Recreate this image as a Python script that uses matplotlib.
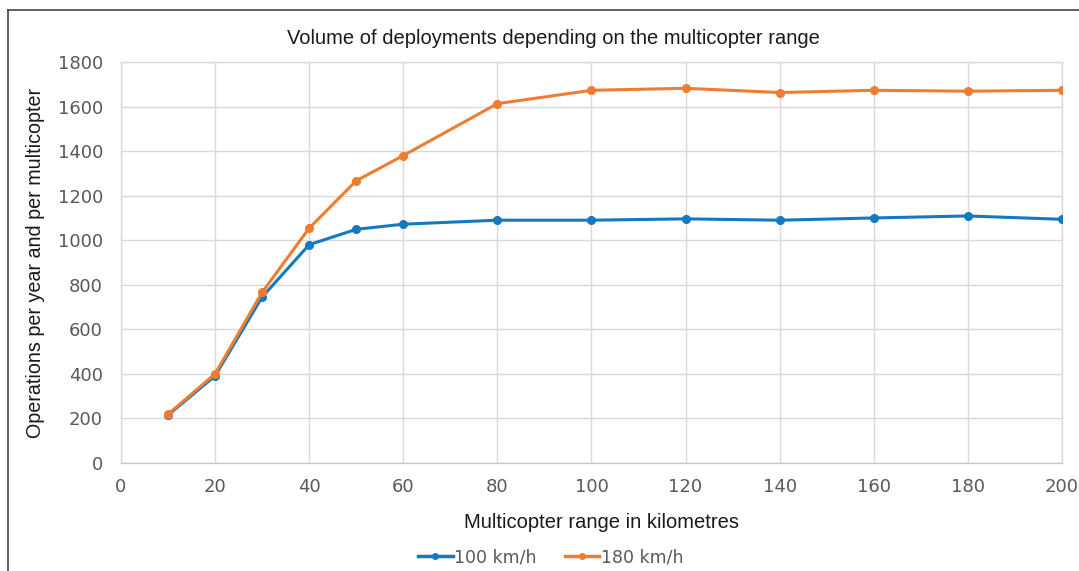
import matplotlib
matplotlib.use("Agg")
import matplotlib.pyplot as plt
from matplotlib.lines import Line2D

range_km = [10, 20, 30, 40, 50, 60, 80, 100, 120, 140, 160, 180, 200]
ops_100 = [215, 391, 745, 980, 1049, 1072, 1090, 1090, 1096, 1090, 1100, 1109, 1094]
ops_180 = [219, 400, 766, 1054, 1267, 1380, 1613, 1673, 1682, 1663, 1673, 1669, 1673]
series_labels = ["100 km/h", "180 km/h"]
x_ticks = list(range(0, 201, 20))
y_ticks = list(range(0, 1801, 200))

blue = "#1479BF"
orange = "#EE7D31"
tick_color = "#595959"

fig = plt.figure(figsize=(10.79, 5.71), dpi=100)
ax = fig.add_axes([0.1121, 0.1891, 0.8721, 0.7023])

ax.plot(range_km, ops_100, color=blue, lw=2.2, marker="o", ms=5.5, label=series_labels[0], zorder=3)
ax.plot(range_km, ops_180, color=orange, lw=2.2, marker="o", ms=5.5, label=series_labels[1], zorder=4)

ax.set_xlim(0, 200)
ax.set_ylim(0, 1800)
ax.set_xticks(x_ticks)
ax.set_yticks(y_ticks)
ax.grid(True, color="#d9d9d9", lw=1.0)
ax.set_axisbelow(True)
for s in ax.spines.values():
    s.set_color("#d9d9d9")
    s.set_linewidth(1.0)
ax.spines["bottom"].set_color("#c8c8c8")
ax.tick_params(length=0, labelsize=13, colors=tick_color)
ax.tick_params(axis="y", pad=13)
ax.tick_params(axis="x", pad=11)

fig.text(0.5125, 1 - 38 / 571, "Volume of deployments depending on the multicopter range",
         fontsize=14.5, family="Liberation Sans", color="#1a1a1a", ha="center", va="center")
fig.text(602 / 1079, 1 - 522 / 571, "Multicopter range in kilometres", fontsize=14.5,
         family="Liberation Sans", color="#1a1a1a", ha="center", va="center")
ax.set_ylabel("Operations per year and per multicopter", fontsize=14.2,
              family="Liberation Sans", color="#1a1a1a", labelpad=9)

handles = [Line2D([], [], color=blue, lw=2.5, marker="o", ms=4),
           Line2D([], [], color=orange, lw=2.5, marker="o", ms=4)]
leg = fig.legend(handles, series_labels, loc="center", bbox_to_anchor=(0.5105, 0.024),
                 ncol=2, frameon=False, fontsize=12.5, handlelength=2.0,
                 handletextpad=0.1, columnspacing=1.6)
for t in leg.get_texts():
    t.set_color(tick_color)

# outer frame (left and top edges)
fig.add_artist(Line2D([0.0075, 0.0075], [0.0, 0.982], transform=fig.transFigure, color="#444444", lw=1.2))
fig.add_artist(Line2D([0.0075, 1.0], [0.982, 0.982], transform=fig.transFigure, color="#444444", lw=1.2))

fig.savefig("out.png", dpi=100)
